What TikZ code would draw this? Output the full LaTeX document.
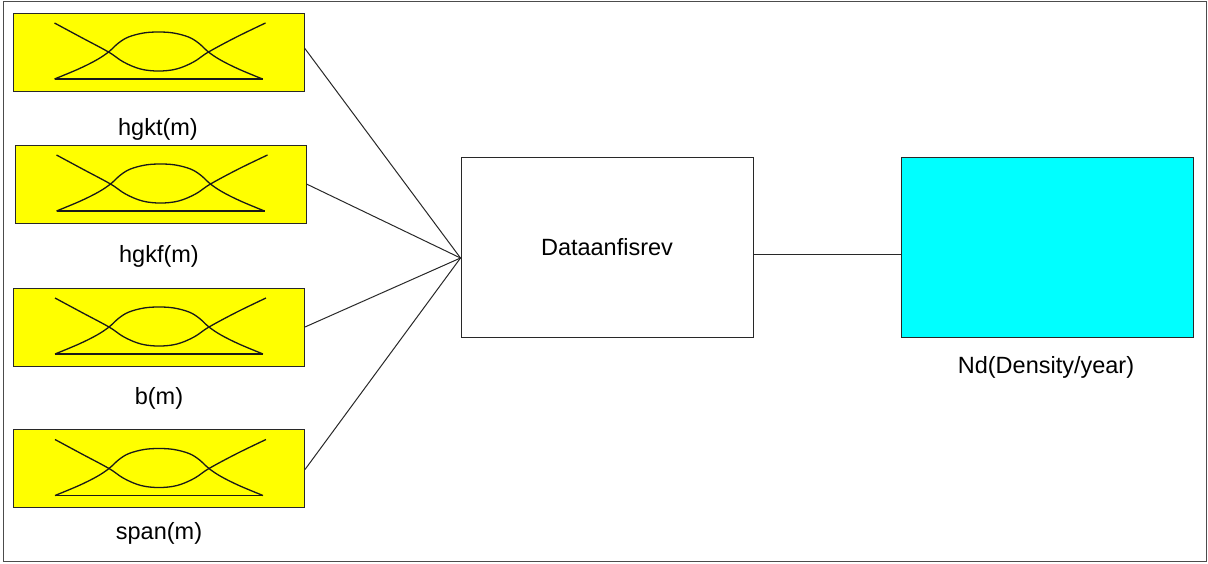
\documentclass[tikz,border=0pt]{standalone}
\usepackage{fontspec}
\setmainfont{Liberation Sans}
\definecolor{mfyellow}{RGB}{255,255,0}
\definecolor{ndcyan}{RGB}{0,255,255}
\definecolor{linegray}{RGB}{40,40,40}
\begin{document}
\begin{tikzpicture}[x=1pt,y=-1pt,
  mfbox/.style={draw=linegray, line width=1pt, fill=mfyellow, minimum width=291pt, minimum height=78pt, inner sep=0pt},
  lbl/.style={font=\fontsize{23.5}{28}\selectfont, inner sep=0pt},
  bigbox/.style={draw=linegray, line width=1pt, minimum width=292pt, minimum height=180pt, inner sep=0pt},
  conn/.style={draw=linegray, line width=1pt},
  mfline/.style={line width=1.3pt, draw=black!90}]
\useasboundingbox (0,0) rectangle (1208,563);
\draw[gray!60!black, line width=1pt] (3,1) rectangle (1206,561);

\node[mfbox] (b1) at (158.5,52) {};
\node[mfbox] (b2) at (160.5,184) {};
\node[mfbox] (b3) at (159,327) {};
\node[mfbox] (b4) at (159,468.5) {};

\foreach \b in {b1,b2,b3,b4}{
  \begin{scope}[shift={(\b.center)}]
    \draw[mfline] plot[smooth, tension=0.6] coordinates {(-104,27) (-80,17) (-62,8) (-50,0) (-40,-9) (-30,-15) (-15,-19) (0,-20) (15,-19) (30,-15) (40,-9) (50,0) (62,8) (80,17) (104,27)};
    \draw[mfline] plot[smooth, tension=0.6] coordinates {(-104,-29) (-78,-15) (-50,0) (-35,10) (-18,17) (0,19) (18,17) (35,10) (50,0) (78,-15) (107,-29)};
    \draw[mfline] (-104,27) -- (104,27);
  \end{scope}
}

\node[lbl] (l1) at (158,129) {hgkt(m)};
\node[lbl] (l2) at (159,256) {hgkf(m)};
\node[lbl] (l3) at (159,398) {b(m)};
\node[lbl] (l4) at (159,533) {span(m)};

\node[bigbox, lbl] (d) at (607,247) {Dataanfisrev\hspace{10pt}};
\node[bigbox, fill=ndcyan] (nd) at (1047,247) {};
\node[lbl] (ndl) at (1046,367) {Nd(Density/year)};

\coordinate (in) at ([yshift=-11pt]d.west);
\draw[conn] ([yshift=4pt]b1.east) -- (in);
\draw[conn] (b2.east) -- (in);
\draw[conn] (b3.east) -- (in);
\draw[conn] ([yshift=-1pt]b4.east) -- (in);
\draw[conn] ([yshift=-7pt]d.east) -- ([yshift=-7pt]nd.west);
\end{tikzpicture}
\end{document}
